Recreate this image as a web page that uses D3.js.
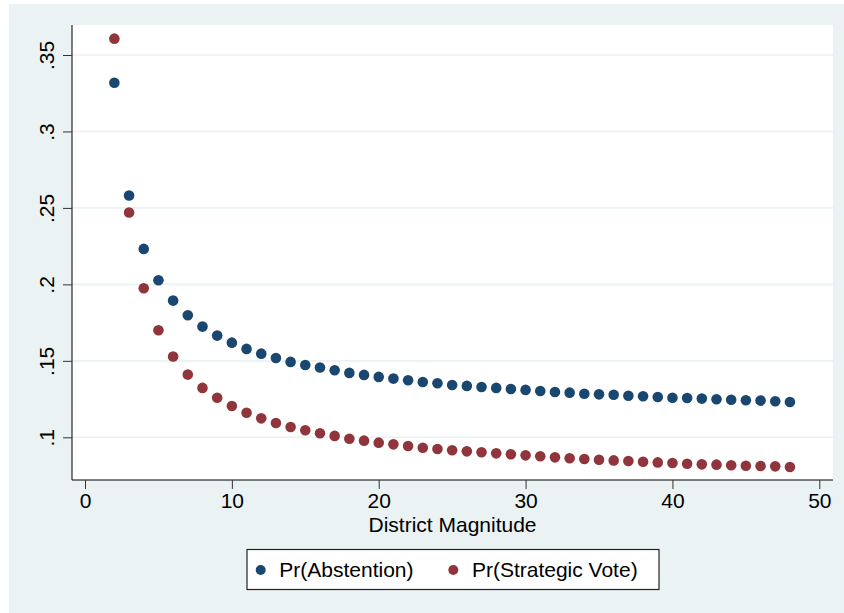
<!DOCTYPE html>
<html>
<head>
<meta charset="utf-8">
<script src="https://cdn.jsdelivr.net/npm/d3@7"></script>
<style>
	body { margin: 0; background: #fff; }
	svg { display: block; font-family: 'Liberation Sans', Arial, sans-serif; }
</style>
</head>
<body>
<svg id="chart" width="844" height="613"></svg>
<script>
const magnitude = d3.range(2, 49);

const abstention = [
	0.3319, 0.2581, 0.2232, 0.2027, 0.1894, 0.1798, 0.1724, 0.1665, 0.1619,
	0.1578, 0.1547, 0.1519, 0.1493, 0.1473, 0.1456, 0.1438, 0.1421, 0.1408,
	0.1395, 0.1384, 0.1373, 0.1362, 0.1353, 0.1342, 0.1336, 0.1329, 0.1323,
	0.1316, 0.1310, 0.1303, 0.1296, 0.1292, 0.1285, 0.1281, 0.1278, 0.1272,
	0.1268, 0.1264, 0.1259, 0.1257, 0.1253, 0.1249, 0.1246, 0.1242, 0.1240,
	0.1236, 0.1231,
];

const strategic = [
	0.3607, 0.2470, 0.1975, 0.1700, 0.1528, 0.1410, 0.1323, 0.1259, 0.1205,
	0.1161, 0.1124, 0.1094, 0.1067, 0.1046, 0.1026, 0.1009, 0.0991, 0.0978,
	0.0965, 0.0954, 0.0943, 0.0932, 0.0923, 0.0915, 0.0908, 0.0902, 0.0895,
	0.0889, 0.0882, 0.0876, 0.0869, 0.0863, 0.0858, 0.0853, 0.0849, 0.0845,
	0.0840, 0.0836, 0.0832, 0.0827, 0.0823, 0.0821, 0.0817, 0.0814, 0.0812,
	0.0810, 0.0806,
];

const xTicks = [0, 10, 20, 30, 40, 50];
const yTicks = [0.1, 0.15, 0.2, 0.25, 0.3, 0.35];
const yTickLabels = ['.1', '.15', '.2', '.25', '.3', '.35'];
const seriesNames = ['Pr(Abstention)', 'Pr(Strategic Vote)'];
const seriesColors = ['#1a476f', '#90353b'];

const plot = { left: 72, top: 25, right: 833, bottom: 480 };

const x = d3.scaleLinear().domain([0, 50]).range([85, 819.3]);
const y = d3.scaleLinear().domain([0.1, 0.35]).range([437.3, 55]);

const svg = d3.select('#chart');

// outer (graph region) background
svg.append('rect')
	.attr('x', 9).attr('y', 4)
	.attr('width', 835).attr('height', 609)
	.attr('fill', '#eaf2f3');

// plot region
svg.append('rect')
	.attr('x', plot.left).attr('y', plot.top)
	.attr('width', plot.right - plot.left)
	.attr('height', plot.bottom - plot.top)
	.attr('fill', '#fff');

// horizontal grid lines
svg.append('g')
	.selectAll('line')
	.data(yTicks)
	.join('line')
	.attr('x1', plot.left).attr('x2', plot.right)
	.attr('y1', (d) => y(d)).attr('y2', (d) => y(d))
	.attr('stroke', '#eaf2f3')
	.attr('stroke-width', 1.6);

// y axis
const yAxis = svg.append('g')
	.attr('transform', `translate(${plot.left},0)`)
	.call(d3.axisLeft(y).tickValues(yTicks).tickSize(9).tickSizeOuter(0)
		.tickFormat((d, i) => yTickLabels[i]));
yAxis.select('.domain')
	.attr('d', `M0,${plot.top}V${plot.bottom}`)
	.attr('stroke', '#000');
yAxis.selectAll('.tick line').attr('stroke', '#333');
yAxis.selectAll('.tick text')
	.attr('x', null).attr('dy', null)
	.attr('transform', 'translate(-18.5,0) rotate(-90)')
	.attr('text-anchor', 'middle')
	.attr('font-size', 21)
	.attr('fill', '#000');

// x axis
const xAxis = svg.append('g')
	.attr('transform', `translate(0,${plot.bottom})`)
	.call(d3.axisBottom(x).tickValues(xTicks).tickSize(9).tickSizeOuter(0));
xAxis.select('.domain')
	.attr('d', `M${plot.left},0H${plot.right}`)
	.attr('stroke', '#000');
xAxis.selectAll('.tick line').attr('stroke', '#333');
xAxis.selectAll('.tick text')
	.attr('y', 28).attr('dy', null)
	.attr('font-size', 21)
	.attr('fill', '#000');

svg.append('text')
	.attr('x', (plot.left + plot.right) / 2)
	.attr('y', 531.7)
	.attr('text-anchor', 'middle')
	.attr('font-size', 21)
	.text('District Magnitude');

// scatter points
[abstention, strategic].forEach((values, s) => {
	svg.append('g')
		.selectAll('circle')
		.data(values)
		.join('circle')
		.attr('cx', (d, i) => x(magnitude[i]))
		.attr('cy', (d) => y(d))
		.attr('r', 5.3)
		.attr('fill', seriesColors[s]);
});

// legend
const legend = svg.append('g');
legend.append('rect')
	.attr('x', 247).attr('y', 549.5)
	.attr('width', 412).attr('height', 40)
	.attr('fill', '#fff')
	.attr('stroke', '#222')
	.attr('stroke-width', 1.2);

const legendX = [260.7, 453.3];
seriesNames.forEach((name, s) => {
	legend.append('circle')
		.attr('cx', legendX[s]).attr('cy', 570)
		.attr('r', 5)
		.attr('fill', seriesColors[s]);
	legend.append('text')
		.attr('x', legendX[s] + 18.6)
		.attr('y', 577)
		.attr('font-size', 21)
		.text(name);
});
</script>
</body>
</html>
